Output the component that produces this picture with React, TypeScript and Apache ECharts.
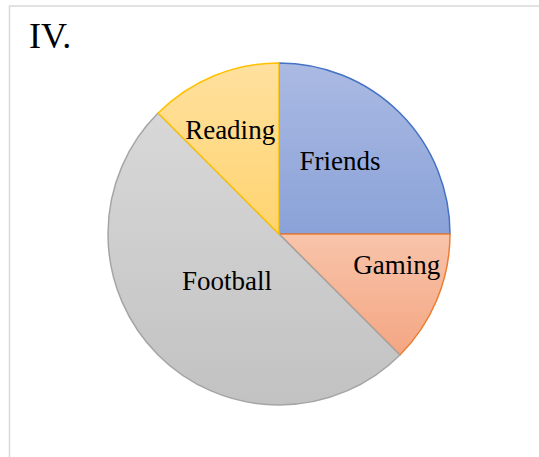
import React, { useEffect, useRef } from "react";
import * as echarts from "echarts";

const titleText = "IV.";
const categories = ["Friends", "Gaming", "Football", "Reading"];
const values = [25, 12.5, 50, 12.5];
const topColors = ["#abbae3", "#f8c4aa", "#d8d8d8", "#ffe09e"];
const bottomColors = ["#8aa2d8", "#f4a683", "#c2c2c2", "#ffd470"];
const borderColors = ["#4472c4", "#ed7d31", "#a5a5a5", "#ffc000"];
const labelShift = [
  [-1.5, -10.5],
  [36, -2.5],
  [10.5, -16],
  [-15, -22.5],
];

export default function App() {
  const ref = useRef<HTMLDivElement>(null);
  useEffect(() => {
    if (!ref.current) return;
    const chart = echarts.init(ref.current, null, { renderer: "svg" });
    const data = categories.map((name, i) => ({
      name,
      value: values[i],
      itemStyle: {
        color: new echarts.graphic.LinearGradient(0, 0, 0, 1, [
          { offset: 0, color: topColors[i] },
          { offset: 1, color: bottomColors[i] },
        ]),
        borderColor: borderColors[i],
        borderWidth: 1.5,
      },
    }));
    chart.setOption({
      animation: false,
      backgroundColor: "#ffffff",
      title: {
        text: titleText,
        left: 24,
        top: 13,
        textStyle: {
          fontFamily: "Liberation Serif",
          fontSize: 36,
          fontWeight: "normal",
          color: "#000000",
        },
      },
      graphic: [
        {
          type: "rect",
          shape: { x: 9.5, y: 6, width: 700, height: 600 },
          style: { fill: "none", stroke: "#d9d9d9", lineWidth: 1.5 },
          silent: true,
          z: -1,
        },
      ],
      series: [
        {
          type: "pie",
          center: [279, 234],
          radius: [0, 171],
          startAngle: 90,
          clockwise: true,
          data,
          label: {
            show: true,
            position: "inside",
            fontFamily: "Liberation Serif",
            fontSize: 27,
            color: "#000000",
          },
          labelLine: { show: false },
          labelLayout: (params: any) => {
            const s = labelShift[params.dataIndex] || [0, 0];
            return { dx: s[0], dy: s[1] };
          },
          emphasis: { disabled: true },
        },
      ],
    });
    return () => chart.dispose();
  }, []);
  return (
    <div
      ref={ref}
      style={{ position: "absolute", left: 0, top: 0, width: 539, height: 457 }}
    />
  );
}
